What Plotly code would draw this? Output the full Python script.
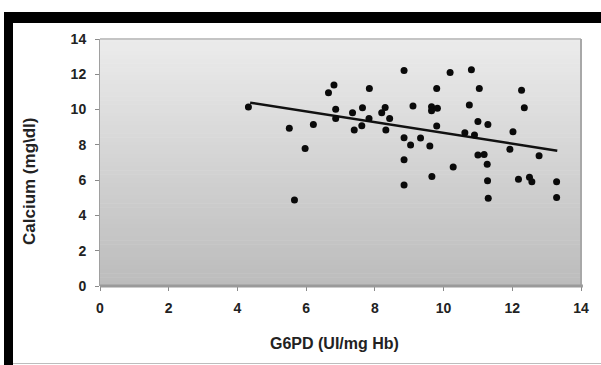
import numpy as np
import plotly.graph_objects as go

# G6PD (UI/mg Hb) vs Calcium (mg\dl)
g6pd = [4.32, 5.51, 5.66, 5.97, 6.21, 6.65, 6.81, 6.86, 6.86, 7.35,
        7.40, 7.62, 7.64, 7.83, 7.84, 8.20, 8.30, 8.32, 8.43, 8.85,
        8.85, 8.85, 8.85, 9.04, 9.11, 9.33, 9.60, 9.65, 9.65, 9.66,
        9.82, 9.80, 9.80, 10.19, 10.28, 10.62, 10.75, 10.81, 10.90, 11.00,
        11.00, 11.04, 11.18, 11.27, 11.28, 11.29, 11.30, 11.93, 12.02, 12.18,
        12.27, 12.35, 12.50, 12.57, 12.78, 13.29, 13.29]
calcium = [10.15, 8.94, 4.87, 7.80, 9.16, 10.96, 11.39, 10.02, 9.50, 9.82,
           8.84, 9.08, 10.10, 9.50, 11.20, 9.82, 10.12, 8.84, 9.50, 12.22,
           8.40, 7.15, 5.72, 7.99, 10.20, 8.39, 7.94, 10.16, 9.94, 6.20,
           10.07, 11.20, 9.07, 12.10, 6.74, 8.69, 10.26, 12.26, 8.56, 9.33,
           7.43, 11.20, 7.45, 6.90, 5.97, 9.16, 4.97, 7.75, 8.75, 6.05,
           11.10, 10.11, 6.16, 5.91, 7.38, 5.91, 5.01]

# linear trend line
trend_x = [4.37, 13.31]
trend_y = [10.39, 7.67]

x_ticks = [0, 2, 4, 6, 8, 10, 12, 14]
y_ticks = [0, 2, 4, 6, 8, 10, 12, 14]
x_tick_text = [f"<b>{v}</b>" for v in x_ticks]
y_tick_text = [f"<b>{v}</b>" for v in y_ticks]

W, H = 601, 365
ML, MR, MT, MB = 100, 20, 39, 79
PW, PH = W - ML - MR, H - MT - MB


def px(xp):
    return (xp - ML) / PW


def py(yp):
    return (H - MB - yp) / PH


fig = go.Figure()
fig.add_trace(go.Scatter(x=trend_x, y=trend_y, mode="lines",
                         line=dict(color="#111111", width=2.5),
                         hoverinfo="skip", showlegend=False))
fig.add_trace(go.Scatter(x=g6pd, y=calcium, mode="markers",
                         marker=dict(color="#0a0a0a", size=7),
                         showlegend=False))

shapes = []
# gradient background of plot area
n = 60
top = np.array([236, 236, 236])
bot = np.array([188, 188, 188])
for i in range(n):
    t = (i + 0.5) / n
    c = (top * (1 - t) + bot * t).astype(int)
    shapes.append(dict(type="rect", xref="paper", yref="paper",
                       x0=0, x1=1, y0=1 - (i + 1) / n, y1=1 - i / n + 0.002,
                       fillcolor=f"rgb({c[0]},{c[1]},{c[2]})",
                       line=dict(width=0), layer="below"))
# plot border
shapes.append(dict(type="line", xref="paper", yref="paper", x0=0, x1=1, y0=1, y1=1,
                   line=dict(color="#c4c4c4", width=2)))
shapes.append(dict(type="line", xref="paper", yref="paper", x0=1, x1=1, y0=0, y1=1,
                   line=dict(color="#a8a8a8", width=2)))
shapes.append(dict(type="line", xref="paper", yref="paper", x0=0, x1=1.004, y0=0, y1=0,
                   line=dict(color="#9a9a9a", width=3)))
# outer frame
shapes.append(dict(type="rect", xref="paper", yref="paper",
                   x0=px(4), x1=px(601), y0=py(23), y1=py(12),
                   fillcolor="black", line=dict(width=0)))
shapes.append(dict(type="rect", xref="paper", yref="paper",
                   x0=px(4), x1=px(13), y0=py(365), y1=py(12),
                   fillcolor="black", line=dict(width=0)))
shapes.append(dict(type="line", xref="paper", yref="paper",
                   x0=px(13), x1=px(601), y0=py(363.5), y1=py(363.5),
                   line=dict(color="#bdbdbd", width=1)))

fig.update_layout(
    width=W, height=H,
    margin=dict(l=ML, r=MR, t=MT, b=MB),
    paper_bgcolor="white",
    plot_bgcolor="rgba(0,0,0,0)",
    shapes=shapes,
    font=dict(family="Liberation Sans, Arial, sans-serif", color="#222222"),
    annotations=[
        dict(text="<b>G6PD (UI/mg Hb)</b>", xref="paper", yref="paper",
             x=px(334), y=py(343), xanchor="center", yanchor="middle",
             showarrow=False, font=dict(size=16, color="#222222")),
        dict(text="<b>Calcium (mg\\dl)</b>", xref="paper", yref="paper",
             x=px(29), y=py(181), xanchor="center", yanchor="middle",
             showarrow=False, textangle=-90,
             font=dict(size=17, color="#222222")),
    ],
)
fig.update_xaxes(range=[0, 14], tickvals=x_ticks, ticktext=x_tick_text,
                 showgrid=False, zeroline=False,
                 ticks="outside", ticklen=4, tickcolor="#8a8a8a", tickwidth=1,
                 showline=False, ticklabelstandoff=5,
                 tickfont=dict(size=14, color="#222222"))
fig.update_yaxes(range=[0, 14], tickvals=y_ticks, ticktext=y_tick_text,
                 showgrid=False, zeroline=False,
                 ticks="outside", ticklen=4, tickcolor="#8a8a8a", tickwidth=1,
                 showline=True, linecolor="#a0a0a0", linewidth=1,
                 ticklabelstandoff=6,
                 tickfont=dict(size=14, color="#222222"))

fig.write_html("out.html", config={"displayModeBar": False},
               post_script="document.body.style.margin='0';document.body.style.overflow='hidden';")
